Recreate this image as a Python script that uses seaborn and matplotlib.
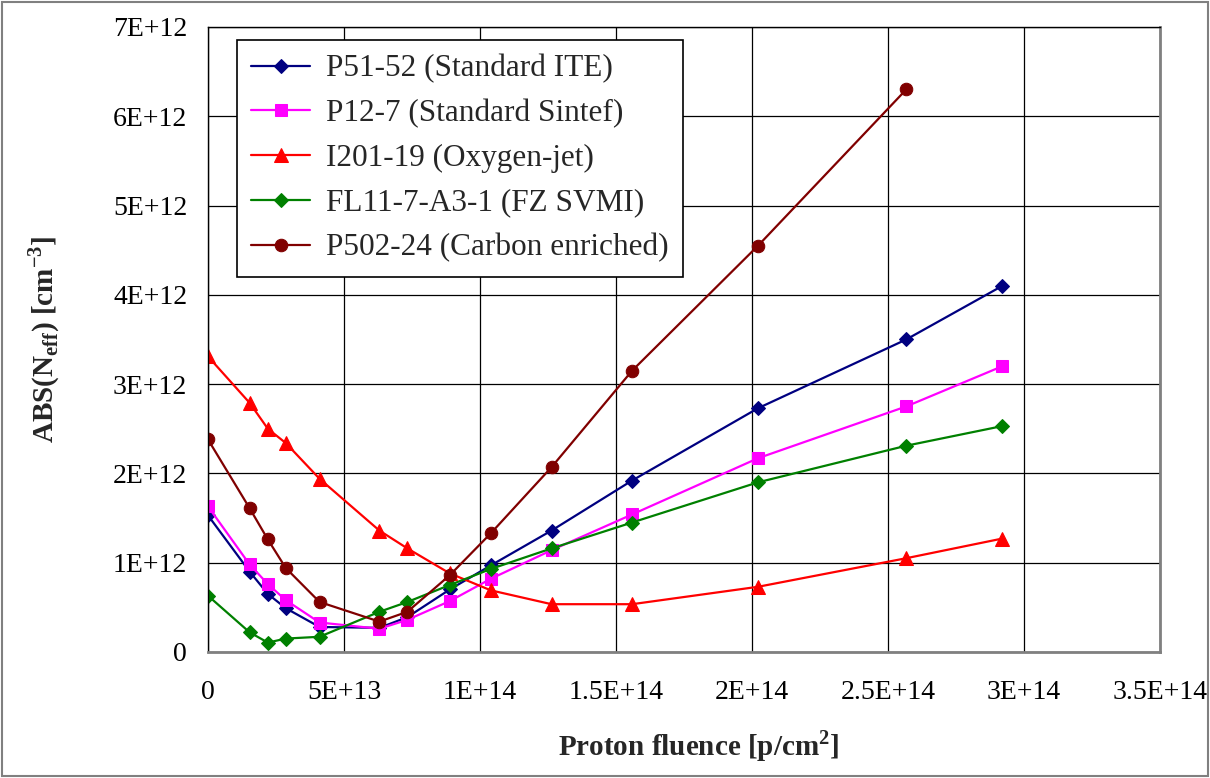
import numpy as np
import pandas as pd
import matplotlib
matplotlib.use("Agg")
import matplotlib.pyplot as plt
import seaborn as sns
from matplotlib.ticker import FuncFormatter, MultipleLocator
from matplotlib.patches import Rectangle

# fluence points [p/cm2]
fluence = [0, 1.53e13, 2.2e13, 2.86e13, 4.1e13, 6.3e13, 7.33e13, 8.89e13,
           1.04e14, 1.263e14, 1.559e14, 2.022e14, 2.567e14, 2.92e14]

p51_52 = [1.53e12, 0.90e12, 0.65e12, 0.49e12, 0.28e12, 0.27e12, 0.39e12, 0.70e12,
          0.97e12, 1.36e12, 1.92e12, 2.73e12, 3.50e12, 4.10e12]
p12_7 = [1.63e12, 0.98e12, 0.76e12, 0.58e12, 0.33e12, 0.26e12, 0.36e12, 0.57e12,
         0.82e12, 1.14e12, 1.54e12, 2.17e12, 2.75e12, 3.20e12]
i201_19 = [3.31e12, 2.79e12, 2.50e12, 2.34e12, 1.94e12, 1.36e12, 1.16e12, 0.88e12,
           0.69e12, 0.535e12, 0.535e12, 0.73e12, 1.05e12, 1.27e12]
fl11 = [0.63e12, 0.22e12, 0.105e12, 0.15e12, 0.17e12, 0.45e12, 0.56e12, 0.75e12,
        0.93e12, 1.16e12, 1.45e12, 1.90e12, 2.31e12, 2.53e12]
# carbon enriched sample stops at 2.57E+14
p502_24 = [2.38e12, 1.61e12, 1.26e12, 0.94e12, 0.56e12, 0.34e12, 0.45e12, 0.86e12,
           1.33e12, 2.07e12, 3.15e12, 4.55e12, 6.30e12]

labels = ["P51-52 (Standard ITE)", "P12-7 (Standard Sintef)", "I201-19 (Oxygen-jet)",
          "FL11-7-A3-1 (FZ SVMI)", "P502-24 (Carbon enriched)"]

series = [
    (p51_52, "#000080", "D", 7),
    (p12_7, "#FF00FF", "s", 9),
    (i201_19, "#FF0000", "^", 10),
    (fl11, "#008000", "D", 7),
    (p502_24, "#800000", "o", 9),
]

sns.set_theme(style="white")
plt.rcParams["font.family"] = ["Liberation Serif", "DejaVu Serif"]
plt.rcParams["mathtext.fontset"] = "custom"
plt.rcParams["mathtext.rm"] = "Liberation Serif"
plt.rcParams["mathtext.bf"] = "Liberation Serif:bold"

fig = plt.figure(figsize=(12.1, 7.78), dpi=100)
ax = fig.add_axes([0.1719, 0.162, 0.7868, 0.8033])

for (vals, col, mk, ms), lab in zip(series, labels):
    df = pd.DataFrame({"x": fluence[:len(vals)], "y": vals})
    sns.lineplot(data=df, x="x", y="y", ax=ax, color=col, marker=mk,
                 markersize=ms, markeredgecolor=col, linewidth=1.6,
                 label=lab, sort=False)

ax.set_xlim(0, 3.5e14)
ax.set_ylim(0, 7e12)
ax.xaxis.set_major_locator(MultipleLocator(5e13))
ax.yaxis.set_major_locator(MultipleLocator(1e12))
fmt = FuncFormatter(lambda v, p: "0" if v == 0 else "{:G}".format(v))
ax.xaxis.set_major_formatter(fmt)
ax.yaxis.set_major_formatter(fmt)
ax.grid(True, color="black", linewidth=0.9)
ax.set_axisbelow(True)

ax.tick_params(axis="both", direction="out", length=6, width=1, color="black",
               labelcolor="black", labelsize=20)
ax.tick_params(axis="x", pad=14)
ax.tick_params(axis="y", pad=9)

for side in ["left", "top"]:
    ax.spines[side].set_color("black")
    ax.spines[side].set_linewidth(1)
for side in ["right", "bottom"]:
    ax.spines[side].set_color("#808080")
    ax.spines[side].set_linewidth(2)

ax.set_xlabel(r"Proton fluence [p/cm$^\mathbf{2}$]", fontsize=21, fontweight="bold")
ax.set_ylabel(r"ABS(N$_{\mathbf{eff}}$) [cm$^{\mathbf{-3}}$]", fontsize=21,
              fontweight="bold", va="center")
ax.xaxis.set_label_coords(0.515, -0.122)
ax.yaxis.set_label_coords(-0.172, 0.5)

leg = ax.legend(loc="upper left", bbox_to_anchor=(0.0305, 0.979), borderaxespad=0,
                fontsize=22.5, frameon=True, fancybox=False, edgecolor="black",
                framealpha=1, handlelength=1.9, labelspacing=0.5,
                borderpad=0.45, handletextpad=0.5)
leg.get_frame().set_linewidth(1.2)

fig.patches.append(Rectangle((0.002, 0.003), 0.996, 0.994, transform=fig.transFigure,
                             fill=False, edgecolor="#808080", linewidth=1.5))

fig.savefig("out.png", dpi=100)
